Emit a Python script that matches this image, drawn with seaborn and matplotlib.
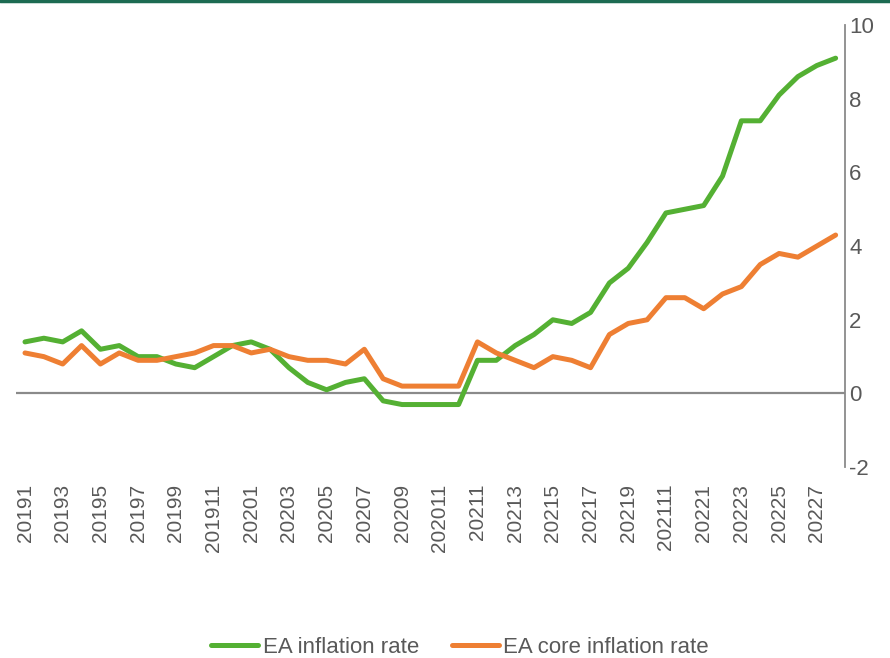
import matplotlib
matplotlib.use("Agg")
import matplotlib.pyplot as plt
from matplotlib.lines import Line2D
import seaborn as sns
import pandas as pd

# monthly data, 2019M1 .. 2022M8
years = [2019] * 12 + [2020] * 12 + [2021] * 12 + [2022] * 8
months = list(range(1, 13)) * 3 + list(range(1, 9))

hicp = [1.4, 1.5, 1.4, 1.7, 1.2, 1.3, 1.0, 1.0, 0.8, 0.7, 1.0, 1.3,
        1.4, 1.2, 0.7, 0.3, 0.1, 0.3, 0.4, -0.2, -0.3, -0.3, -0.3, -0.3,
        0.9, 0.9, 1.3, 1.6, 2.0, 1.9, 2.2, 3.0, 3.4, 4.1, 4.9, 5.0,
        5.1, 5.9, 7.4, 7.4, 8.1, 8.6, 8.9, 9.1]
core = [1.1, 1.0, 0.8, 1.3, 0.8, 1.1, 0.9, 0.9, 1.0, 1.1, 1.3, 1.3,
        1.1, 1.2, 1.0, 0.9, 0.9, 0.8, 1.2, 0.4, 0.2, 0.2, 0.2, 0.2,
        1.4, 1.1, 0.9, 0.7, 1.0, 0.9, 0.7, 1.6, 1.9, 2.0, 2.6, 2.6,
        2.3, 2.7, 2.9, 3.5, 3.8, 3.7, 4.0, 4.3]

series_names = ["EA inflation rate", "EA core inflation rate"]
colors = ["#54b033", "#ee7f33"]
period_labels = [f"{y}{m}" for y, m in zip(years, months)]

idx = list(range(len(hicp)))
df = pd.DataFrame({
    "t": idx * 2,
    "value": hicp + core,
    "series": [series_names[0]] * len(hicp) + [series_names[1]] * len(core),
})

sns.set_style("white")
font = ["Liberation Sans", "DejaVu Sans"]
grey = "#595959"

fig = plt.figure(figsize=(8.9, 6.58), dpi=100)
ax = fig.add_axes([0.0175, 0.290, 0.932, 0.672])

sns.lineplot(data=df, x="t", y="value", hue="series", palette=colors,
             linewidth=3.6, ax=ax, legend=False, solid_capstyle="round")

ax.axhline(0, color="#8a8a8a", lw=1.6, zorder=1)
ax.set_xlim(-0.5, len(hicp) - 0.5)
ax.set_ylim(-2, 10)

for s in ["top", "left", "bottom"]:
    ax.spines[s].set_visible(False)
ax.spines["right"].set_color("#8a8a8a")
ax.spines["right"].set_linewidth(1.3)

ax.yaxis.tick_right()
ax.set_yticks(range(-2, 11, 2))
ax.set_yticklabels([str(v) for v in range(-2, 11, 2)], family=font,
                   fontsize=16, color=grey)
ax.tick_params(axis="y", length=0, pad=3)

ax.set_xticks(idx[::2])
ax.set_xticklabels(period_labels[::2], rotation=90, family=font,
                   fontsize=15, color=grey)
ax.tick_params(axis="x", length=0, pad=12)
ax.set_xlabel("")
ax.set_ylabel("")

handles = [Line2D([], [], color=c, lw=3.6, solid_capstyle="round") for c in colors]
leg = fig.legend(handles, series_names, loc="lower center",
                 bbox_to_anchor=(0.517, -0.03), ncol=2, frameon=False,
                 handlelength=2.1, handletextpad=0.2, columnspacing=1.5,
                 prop={"family": font, "size": 16})
for t in leg.get_texts():
    t.set_color(grey)

# thin dark green rule at the very top
fig.add_artist(Line2D([0, 1], [0.998, 0.998], transform=fig.transFigure,
                      color="#1d6b52", lw=2.5))

fig.savefig("out.png", dpi=100)
